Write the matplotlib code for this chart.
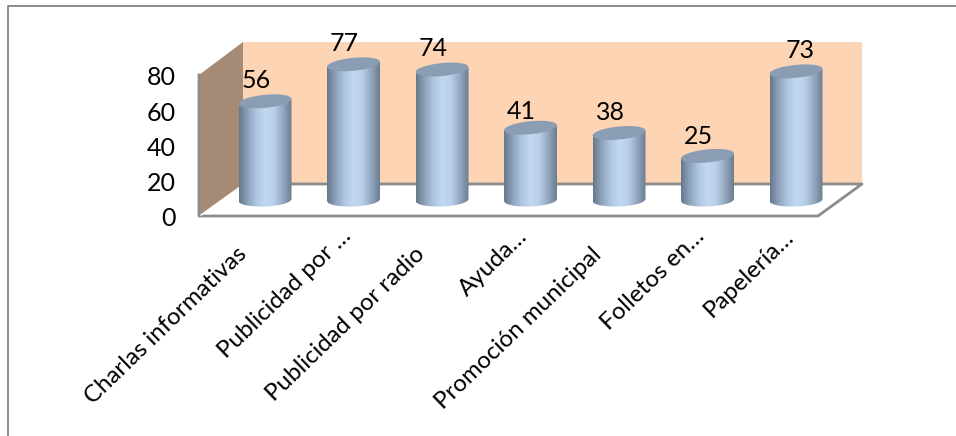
import matplotlib
matplotlib.use('Agg')
import matplotlib.pyplot as plt
import numpy as np
from matplotlib.patches import Polygon, PathPatch
from matplotlib.path import Path
from matplotlib.colors import LinearSegmentedColormap

categorias = ['Charlas informativas', 'Publicidad por …', 'Publicidad por radio', 'Ayuda…',
              'Promoción municipal', 'Folletos en…', 'Papelería…']
valores = [56, 77, 74, 41, 38, 25, 73]
ticks = [0, 20, 40, 60, 80]

W, H = 956, 436
X0, DX = 265.0, 88.5   # pixel x of first bar, bar spacing
Y0, DY = 200.0, 1.7625 # pixel y of value 0 at bar base, px per unit
PT = 0.72              # pixels to points at dpi 100

plt.rcParams['font.family'] = ['Lato', 'DejaVu Sans']
fig = plt.figure(figsize=(W/100, H/100), dpi=100)
ax = fig.add_axes([0, 0, 1, 1])
ax.axis('off')

def px(x, y):
    return ((x-X0)/DX, (Y0-y)/DY)

# outer frame
ax.plot(*zip(*[px(7.5, 436), px(7.5, 6.5), px(956, 6.5)]), color='#8c8c8c', lw=1.4)

# walls and floor
ax.add_patch(Polygon([px(243, 42), px(862, 42), px(862, 184), px(243, 184)], fc='#fdd5b5', ec='none'))
ax.add_patch(Polygon([px(199, 75), px(243, 42), px(243, 184), px(199, 216)], fc='#a58b75', ec='none'))
ax.plot(*zip(*[px(199, 75), px(199, 216), px(818, 216), px(862, 184), px(243, 184)]), color='#8c8c8c', lw=2)
ax.plot(*zip(*[px(201, 215), px(243, 185)]), color='white', lw=1)

# cylinders
cmap = LinearSegmentedColormap.from_list('cil', ['#66788c', '#8fa4bc', '#b0c7e2', '#c3d9f2', '#b9cfe9', '#93a8c0', '#6b7d90'])
grad = np.linspace(0, 1, 128).reshape(1, -1)
hw = 26.5 / DX
hh = 6.5 / DY
tilt = 2.5 / DY
tilt_base = 1.0 / DY
t = np.linspace(-1, 1, 60)
arc = np.sqrt(1-t**2)
for i, v in enumerate(valores):
    xs = i + hw*t
    verts = list(zip(xs, -hh*arc + tilt_base*t)) + list(zip(xs[::-1], (v + tilt*t)[::-1]))
    clip = PathPatch(Path(verts + [verts[0]]), transform=ax.transData, fc='none', ec='none')
    ax.add_patch(clip)
    im = ax.imshow(grad, cmap=cmap, extent=(i-hw, i+hw, -hh-tilt-1, v+hh+tilt), aspect='auto', zorder=3)
    im.set_clip_path(clip)
    tapa = list(zip(xs, v + tilt*t + hh*arc)) + list(zip(xs[::-1], (v + tilt*t - hh*arc)[::-1]))
    ax.add_patch(Polygon(tapa, fc='#8a9db3', ec='none', zorder=4))
    off = 4 if i == 6 else -9
    sube = {3: 16, 5: 19}.get(i, 21)
    ax.annotate(str(v), (i, v), xytext=(off*PT, sube*PT), textcoords='offset points', ha='center', va='center', fontsize=18, zorder=5)

ax.set_xlim((0-X0)/DX, (W-X0)/DX)
ax.set_ylim((Y0-H)/DY, Y0/DY)

for tk in ticks:
    ax.annotate(str(tk), (0, tk), xycoords=('axes fraction', 'data'), xytext=(176*PT, -19*PT), textcoords='offset points', ha='right', va='center', fontsize=18)

# category labels, truncated ones sit closer to the floor
for i, c in enumerate(categorias):
    dx, dy = (-6, -33) if c.endswith('…') else (-21, -51)
    ax.annotate(c, (i, 0), xytext=(dx*PT, dy*PT), textcoords='offset points', rotation=44, rotation_mode='anchor', ha='right', va='center', fontsize=17.3)

fig.savefig('out.png', dpi=100)
